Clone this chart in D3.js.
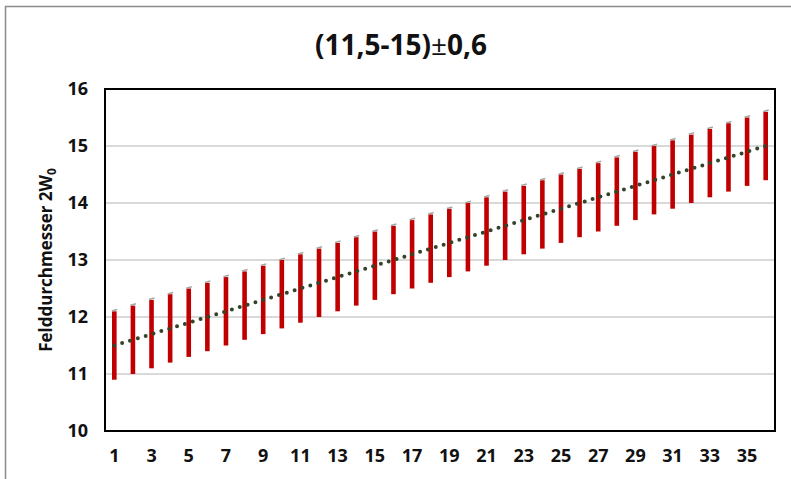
<!DOCTYPE html>
<html lang="de">
<head>
<meta charset="UTF-8">
<title>Felddurchmesser</title>
<script src="https://cdn.jsdelivr.net/npm/d3@7"></script>
<style>
  body { margin: 0; background: #fff; }
  text { font-family: "Open Sans", Lato, sans-serif; font-weight: bold; fill: #111; }
</style>
</head>
<body>
<script>
// data
const positions = [1, 2, 3, 4, 5, 6, 7, 8, 9, 10, 11, 12, 13, 14, 15, 16, 17, 18,
                   19, 20, 21, 22, 23, 24, 25, 26, 27, 28, 29, 30, 31, 32, 33, 34, 35, 36];
const nominal = [11.5, 11.6, 11.7, 11.8, 11.9, 12.0, 12.1, 12.2, 12.3, 12.4, 12.5, 12.6,
                 12.7, 12.8, 12.9, 13.0, 13.1, 13.2, 13.3, 13.4, 13.5, 13.6, 13.7, 13.8,
                 13.9, 14.0, 14.1, 14.2, 14.3, 14.4, 14.5, 14.6, 14.7, 14.8, 14.9, 15.0];
const upper = [12.1, 12.2, 12.3, 12.4, 12.5, 12.6, 12.7, 12.8, 12.9, 13.0, 13.1, 13.2,
               13.3, 13.4, 13.5, 13.6, 13.7, 13.8, 13.9, 14.0, 14.1, 14.2, 14.3, 14.4,
               14.5, 14.6, 14.7, 14.8, 14.9, 15.0, 15.1, 15.2, 15.3, 15.4, 15.5, 15.6];
const lower = [10.9, 11.0, 11.1, 11.2, 11.3, 11.4, 11.5, 11.6, 11.7, 11.8, 11.9, 12.0,
               12.1, 12.2, 12.3, 12.4, 12.5, 12.6, 12.7, 12.8, 12.9, 13.0, 13.1, 13.2,
               13.3, 13.4, 13.5, 13.6, 13.7, 13.8, 13.9, 14.0, 14.1, 14.2, 14.3, 14.4];
const yTicks = [10, 11, 12, 13, 14, 15, 16];
const xTickLabels = [1, 3, 5, 7, 9, 11, 13, 15, 17, 19, 21, 23, 25, 27, 29, 31, 33, 35];

const width = 791, height = 479;
const margin = {top: 89, right: 16, bottom: 48, left: 105};

const svg = d3.select("body").append("svg")
    .attr("width", width).attr("height", height);

// outer frame (cut off on right/bottom)
svg.append("path")
    .attr("d", `M5.5,${height}V6.5H${width}`)
    .attr("fill", "none").attr("stroke", "#8c8c8c").attr("stroke-width", 1.5);

const x = d3.scaleBand().domain(positions)
    .range([margin.left, width - margin.right]).padding(0);
const y = d3.scaleLinear().domain([10, 16])
    .range([height - margin.bottom, margin.top]);

// gridlines
svg.append("g").selectAll("line").data(yTicks.slice(1, -1)).join("line")
    .attr("x1", margin.left).attr("x2", width - margin.right)
    .attr("y1", d => y(d)).attr("y2", d => y(d))
    .attr("stroke", "#d9d9d9").attr("stroke-width", 2);

// tolerance bars
const cx = d => x(d) + x.bandwidth() / 2;
svg.append("g").selectAll("rect").data(positions).join("rect")
    .attr("x", d => cx(d) - 2.3)
    .attr("width", 4.6)
    .attr("y", (d, i) => y(upper[i]))
    .attr("height", (d, i) => y(lower[i]) - y(upper[i]))
    .attr("fill", "#c00000");

// small grey caps at the top of each bar
svg.append("g").selectAll("line").data(positions).join("line")
    .attr("x1", d => cx(d) - 2.5).attr("x2", d => cx(d) + 3)
    .attr("y1", (d, i) => y(upper[i]) - 0.3).attr("y2", (d, i) => y(upper[i]) - 1.8)
    .attr("stroke", "#a6a6a6").attr("stroke-width", 1.6);

// nominal dotted line
svg.append("path")
    .datum(positions)
    .attr("d", d3.line().x(d => cx(d)).y((d, i) => y(nominal[i])))
    .attr("fill", "none")
    .attr("stroke", "#34442a")
    .attr("stroke-width", 4)
    .attr("stroke-linecap", "round")
    .attr("stroke-dasharray", "0 8.2");

// plot border
svg.append("rect")
    .attr("x", margin.left).attr("y", margin.top)
    .attr("width", width - margin.right - margin.left)
    .attr("height", height - margin.bottom - margin.top)
    .attr("fill", "none").attr("stroke", "#000").attr("stroke-width", 2);

// y tick labels
svg.append("g").selectAll("text").data(yTicks).join("text")
    .attr("x", 88).attr("y", d => y(d))
    .attr("dy", "0.35em")
    .attr("text-anchor", "end")
    .attr("font-size", 18)
    .text(d => d);

// x tick labels
svg.append("g").selectAll("text").data(xTickLabels).join("text")
    .attr("x", d => cx(d)).attr("y", 456)
    .attr("dy", "0.35em")
    .attr("text-anchor", "middle")
    .attr("font-size", 18)
    .text(d => d);

// title
const title = svg.append("text")
    .attr("x", 401).attr("y", 45)
    .attr("dy", "0.35em")
    .attr("text-anchor", "middle")
    .attr("font-size", 28);
title.append("tspan").text("(11,5-15)");
title.append("tspan").attr("font-weight", "normal").text("±");
title.append("tspan").text("0,6");

// y axis label
const yl = svg.append("text")
    .attr("transform", `translate(46,${(margin.top + height - margin.bottom) / 2}) rotate(-90)`)
    .attr("dy", "0.35em")
    .attr("text-anchor", "middle")
    .attr("font-size", 17);
yl.append("tspan").text("Felddurchmesser 2W");
yl.append("tspan").attr("font-size", 12).attr("dy", "0.35em").text("0");
</script>
</body>
</html>
